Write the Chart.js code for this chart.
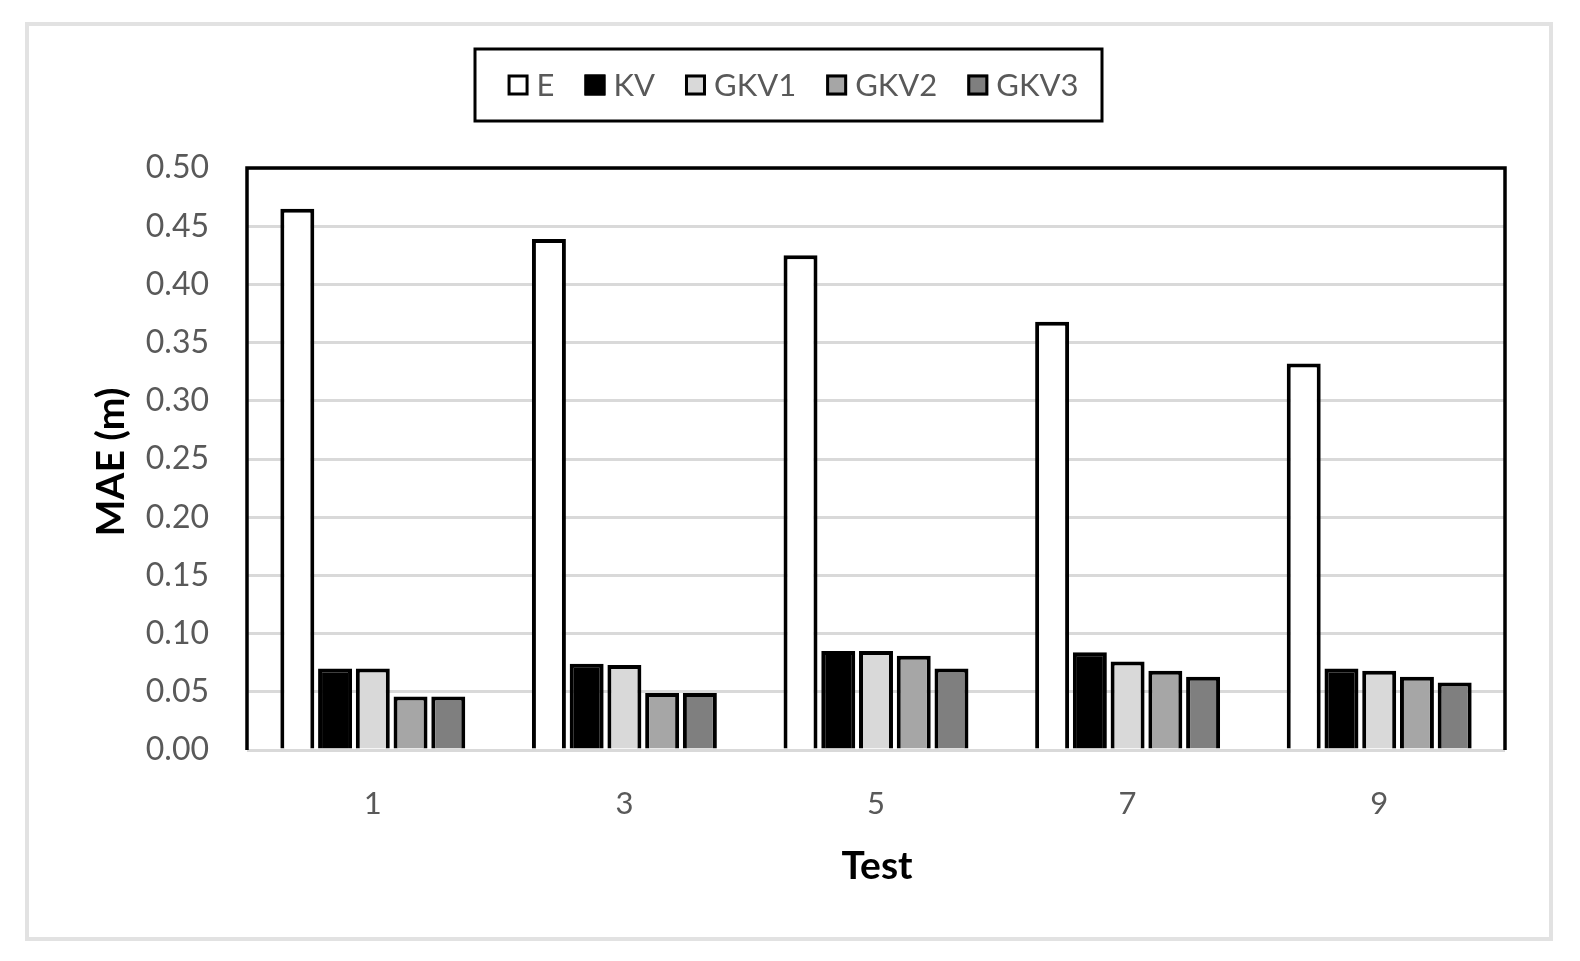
<!DOCTYPE html>
<html>
<head>
<meta charset="utf-8">
<script src="https://cdn.jsdelivr.net/npm/chart.js@4.4.1/dist/chart.umd.min.js"></script>
<style>
  html, body { margin: 0; padding: 0; background: #ffffff; }
  #wrap { width: 1580px; height: 961px; position: relative; }
  canvas { display: block; }
</style>
</head>
<body>
<div id="wrap"><canvas id="c" width="1580" height="961"></canvas></div>
<script>
// ---- data ----
const categories = ['1', '3', '5', '7', '9'];
const seriesNames = ['E', 'KV', 'GKV1', 'GKV2', 'GKV3'];
const valuesE    = [0.465, 0.439, 0.425, 0.368, 0.332];
const valuesKV   = [0.070, 0.074, 0.085, 0.084, 0.070];
const valuesGKV1 = [0.070, 0.073, 0.085, 0.076, 0.068];
const valuesGKV2 = [0.046, 0.049, 0.081, 0.068, 0.063];
const valuesGKV3 = [0.046, 0.049, 0.070, 0.063, 0.058];
const yTickLabels = ['0.00','0.05','0.10','0.15','0.20','0.25','0.30','0.35','0.40','0.45','0.50'];
const xTitle = 'Test';
const yTitle = 'MAE (m)';

const fills = ['#ffffff', '#000000', '#d9d9d9', '#a6a6a6', '#7f7f7f'];
const allValues = [valuesE, valuesKV, valuesGKV1, valuesGKV2, valuesGKV3];

const FONT = 'Lato, "Open Sans", "Liberation Sans", sans-serif';
const GRAY = '#595959';

const datasets = seriesNames.map((name, i) => ({
  label: name,
  data: allValues[i],
  backgroundColor: fills[i],
  borderColor: '#000000',
  borderWidth: 4,
  borderSkipped: 'start',
  barPercentage: 0.9,
  categoryPercentage: 0.75
}));

const decorPlugin = {
  id: 'decor',
  beforeDraw(chart) {
    const ctx = chart.ctx;
    ctx.save();
    ctx.fillStyle = '#ffffff';
    ctx.fillRect(0, 0, chart.width, chart.height);
    // outer light frame
    ctx.strokeStyle = '#e2e2e2';
    ctx.lineWidth = 4;
    ctx.strokeRect(27, 24, 1524, 915);
    ctx.restore();
  },
  afterDraw(chart) {
    const ctx = chart.ctx;
    const a = chart.chartArea;
    ctx.save();
    // plot frame (left, top, right)
    ctx.strokeStyle = '#000000';
    ctx.lineWidth = 3.5;
    ctx.beginPath();
    ctx.moveTo(a.left, a.bottom);
    ctx.lineTo(a.left, a.top);
    ctx.lineTo(a.right, a.top);
    ctx.lineTo(a.right, a.bottom);
    ctx.stroke();

    // axis titles
    ctx.fillStyle = '#000000';
    ctx.font = 'bold 39px ' + FONT;
    ctx.textAlign = 'center';
    ctx.textBaseline = 'middle';
    ctx.fillText(xTitle, (a.left + a.right) / 2 + 1, 866);
    ctx.save();
    ctx.translate(111, (a.top + a.bottom) / 2 + 3);
    ctx.rotate(-Math.PI / 2);
    ctx.fillText(yTitle, 0, 0);
    ctx.restore();

    // legend
    const items = chart.data.datasets.map(d => ({ label: d.label, color: d.backgroundColor }));
    ctx.font = '31px ' + FONT;
    const box = 21, gapText = 8, gapItem = 30;
    let total = 0;
    const widths = items.map(it => ctx.measureText(it.label).width);
    items.forEach((it, i) => { total += box + gapText + widths[i]; });
    total += gapItem * (items.length - 1);
    const cx = 793, cy = 85;
    let x = cx - total / 2;
    // legend frame
    ctx.strokeStyle = '#000000';
    ctx.lineWidth = 3;
    ctx.strokeRect(475, 49, 627, 72);
    ctx.textAlign = 'left';
    ctx.textBaseline = 'middle';
    items.forEach((it, i) => {
      ctx.fillStyle = it.color;
      ctx.fillRect(x, cy - box / 2, box, box);
      ctx.strokeStyle = '#000000';
      ctx.lineWidth = 3;
      ctx.strokeRect(x + 1.5, cy - box / 2 + 1.5, box - 3, box - 3);
      ctx.fillStyle = GRAY;
      ctx.fillText(it.label, x + box + gapText, cy + 1);
      x += box + gapText + widths[i] + gapItem;
    });
    ctx.restore();
  }
};

new Chart(document.getElementById('c'), {
  type: 'bar',
  data: { labels: categories, datasets },
  options: {
    responsive: false,
    animation: false,
    devicePixelRatio: 1,
    layout: { padding: { left: 0, right: 75, top: 168, bottom: 0 } },
    plugins: { legend: { display: false }, tooltip: { enabled: false } },
    scales: {
      x: {
        grid: { display: false, drawTicks: false },
        border: { display: false },
        ticks: { color: GRAY, font: { family: FONT, size: 31 }, padding: 35 },
        afterFit(s) { s.height = 211; }
      },
      y: {
        min: 0,
        max: 0.5,
        grid: { color: '#d9d9d9', lineWidth: 3, drawTicks: false },
        border: { display: false },
        ticks: {
          stepSize: 0.05,
          color: GRAY,
          font: { family: FONT, size: 32 },
          padding: 38,
          callback: (v, i) => yTickLabels[i]
        },
        afterFit(s) { s.width = 247; }
      }
    }
  },
  plugins: [decorPlugin]
});
</script>
</body>
</html>
